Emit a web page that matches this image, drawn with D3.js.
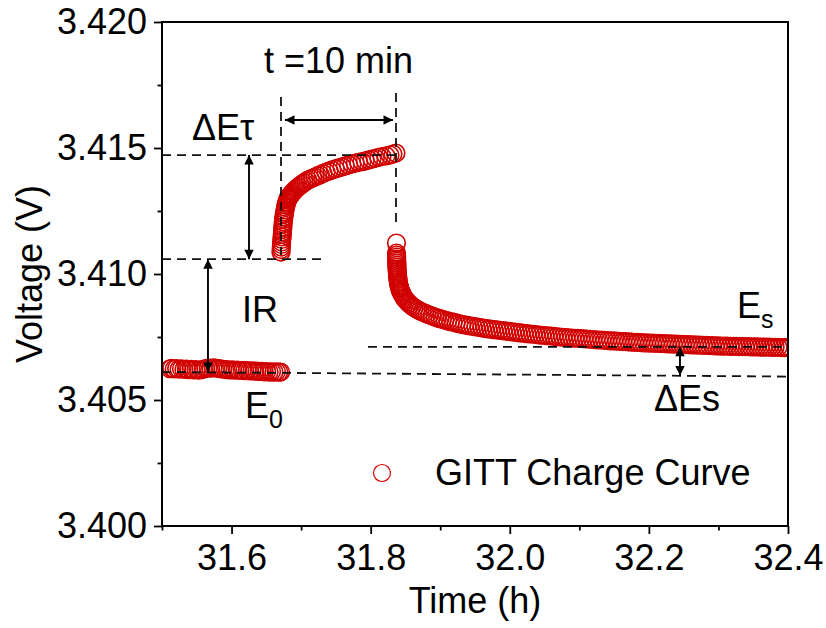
<!DOCTYPE html>
<html>
<head>
<meta charset="utf-8">
<script src="https://cdn.jsdelivr.net/npm/d3@7"></script>
<style>
  body { margin: 0; background: #fff; }
  svg { display: block; font-family: "Liberation Sans", Arial, sans-serif; }
</style>
</head>
<body>
<svg width="826" height="628"></svg>
<script>
// ---- data (time in h, voltage in V) ----
var xMajorTicks = [31.6, 31.8, 32.0, 32.2, 32.4];
var xMinorTicks = [31.5, 31.7, 31.9, 32.1, 32.3];
var yMajorTicks = [3.400, 3.405, 3.410, 3.415, 3.420];
var yMinorTicks = [3.4025, 3.4075, 3.4125, 3.4175];
var seriesName = "GITT Charge Curve";

// rest before the pulse
var restData = [
  [31.5115,3.40624],[31.5140,3.40626],[31.5175,3.40623],[31.5210,3.40625],[31.5245,3.40622],
  [31.5280,3.40624],[31.5315,3.40621],[31.5350,3.40623],[31.5385,3.40620],[31.5420,3.40622],
  [31.5455,3.40619],[31.5490,3.40621],[31.5525,3.40618],[31.5560,3.40620],[31.5595,3.40622],
  [31.5630,3.40625],[31.5665,3.40627],[31.5700,3.40626],[31.5735,3.40628],[31.5770,3.40627],
  [31.5805,3.40625],[31.5840,3.40624],[31.5875,3.40622],[31.5910,3.40621],[31.5945,3.40620],
  [31.5980,3.40619],[31.6015,3.40620],[31.6050,3.40618],[31.6085,3.40619],[31.6120,3.40617],
  [31.6155,3.40618],[31.6190,3.40616],[31.6225,3.40617],[31.6260,3.40615],[31.6295,3.40616],
  [31.6330,3.40614],[31.6365,3.40615],[31.6400,3.40613],[31.6435,3.40614],[31.6470,3.40612],
  [31.6505,3.40613],[31.6540,3.40611],[31.6575,3.40612],[31.6610,3.40611],[31.6645,3.40612],
  [31.6680,3.40611],[31.6705,3.40611]
];

// 10 min current pulse
var pulseData = [
  [31.6711,3.41087],[31.6713,3.41097],[31.6715,3.41107],[31.6718,3.41117],[31.6720,3.41127],
  [31.6723,3.41137],[31.6726,3.41147],[31.6729,3.41157],[31.6732,3.41167],[31.6735,3.41177],
  [31.6738,3.41187],[31.6741,3.41197],[31.6745,3.41207],[31.6749,3.41217],[31.6753,3.41227],
  [31.6758,3.41237],[31.6763,3.41246],[31.6769,3.41255],[31.6775,3.41264],[31.6782,3.41272],
  [31.6789,3.41280],[31.6797,3.41287],[31.6805,3.41294],[31.6814,3.41299],[31.6822,3.41303],
  [31.6831,3.41307],[31.6840,3.41310],[31.6854,3.41315],[31.6868,3.41320],[31.6883,3.41325],
  [31.6902,3.41330],[31.6921,3.41336],[31.6941,3.41341],[31.6965,3.41346],[31.6989,3.41352],
  [31.7013,3.41357],[31.7042,3.41362],[31.7070,3.41368],[31.7099,3.41373],[31.7133,3.41377],
  [31.7166,3.41381],[31.7200,3.41385],[31.7238,3.41390],[31.7277,3.41394],[31.7315,3.41399],
  [31.7358,3.41404],[31.7401,3.41408],[31.7444,3.41413],[31.7492,3.41417],[31.7540,3.41421],
  [31.7588,3.41425],[31.7636,3.41429],[31.7683,3.41433],[31.7731,3.41437],[31.7779,3.41440],
  [31.7827,3.41443],[31.7875,3.41446],[31.7923,3.41449],[31.7971,3.41453],[31.8019,3.41456],
  [31.8067,3.41459],[31.8115,3.41463],[31.8163,3.41466],[31.8220,3.41469],[31.8278,3.41472],
  [31.8321,3.41476],[31.8364,3.41480]
];

// relaxation after the pulse
var relaxData = [
  [31.8371,3.41123],[31.8371,3.41083],[31.8372,3.41075],[31.8373,3.41067],[31.8374,3.41059],
  [31.8375,3.41051],[31.8376,3.41043],[31.8377,3.41035],[31.8378,3.41027],[31.8380,3.41019],
  [31.8382,3.41011],[31.8384,3.41003],[31.8386,3.40995],[31.8389,3.40987],[31.8392,3.40979],
  [31.8396,3.40971],[31.8400,3.40964],[31.8405,3.40957],[31.8410,3.40951],[31.8415,3.40945],
  [31.8421,3.40940],[31.8430,3.40933],[31.8440,3.40927],[31.8450,3.40921],[31.8464,3.40914],
  [31.8478,3.40907],[31.8493,3.40901],[31.8512,3.40895],[31.8532,3.40889],[31.8551,3.40883],
  [31.8575,3.40878],[31.8599,3.40872],[31.8623,3.40867],[31.8652,3.40862],[31.8680,3.40858],
  [31.8709,3.40853],[31.8743,3.40849],[31.8776,3.40845],[31.8810,3.40841],[31.8848,3.40837],
  [31.8887,3.40833],[31.8925,3.40829],[31.8961,3.40826],[31.8997,3.40823],[31.9032,3.40820],
  [31.9068,3.40817],[31.9108,3.40814],[31.9148,3.40811],[31.9187,3.40809],[31.9227,3.40806],
  [31.9267,3.40803],[31.9307,3.40800],[31.9348,3.40798],[31.9388,3.40796],[31.9428,3.40794],
  [31.9471,3.40792],[31.9514,3.40790],[31.9557,3.40788],[31.9600,3.40786],[31.9643,3.40784],
  [31.9686,3.40782],[31.9729,3.40781],[31.9773,3.40779],[31.9816,3.40778],[31.9859,3.40776],
  [31.9902,3.40775],[31.9945,3.40773],[31.9988,3.40772],[32.0031,3.40770],[32.0074,3.40769],
  [32.0117,3.40767],[32.0160,3.40766],[32.0203,3.40764],[32.0246,3.40763],[32.0289,3.40762],
  [32.0332,3.40761],[32.0375,3.40760],[32.0418,3.40758],[32.0461,3.40757],[32.0504,3.40756],
  [32.0547,3.40755],[32.0590,3.40754],[32.0633,3.40753],[32.0676,3.40751],[32.0719,3.40750],
  [32.0762,3.40749],[32.0805,3.40748],[32.0848,3.40747],[32.0891,3.40746],[32.0934,3.40745],
  [32.0977,3.40745],[32.1020,3.40744],[32.1063,3.40743],[32.1106,3.40742],[32.1149,3.40741],
  [32.1192,3.40740],[32.1235,3.40739],[32.1278,3.40738],[32.1321,3.40738],[32.1364,3.40737],
  [32.1407,3.40736],[32.1450,3.40735],[32.1493,3.40735],[32.1536,3.40734],[32.1579,3.40733],
  [32.1622,3.40732],[32.1665,3.40732],[32.1708,3.40731],[32.1751,3.40730],[32.1794,3.40729],
  [32.1837,3.40729],[32.1880,3.40728],[32.1923,3.40727],[32.1966,3.40727],[32.2009,3.40726],
  [32.2052,3.40726],[32.2095,3.40725],[32.2138,3.40725],[32.2181,3.40724],[32.2224,3.40724],
  [32.2267,3.40723],[32.2310,3.40723],[32.2353,3.40722],[32.2396,3.40722],[32.2439,3.40721],
  [32.2482,3.40721],[32.2525,3.40720],[32.2568,3.40720],[32.2611,3.40719],[32.2654,3.40719],
  [32.2697,3.40718],[32.2740,3.40718],[32.2783,3.40717],[32.2826,3.40717],[32.2869,3.40716],
  [32.2912,3.40716],[32.2955,3.40715],[32.2998,3.40715],[32.3041,3.40714],[32.3084,3.40714],
  [32.3127,3.40714],[32.3170,3.40713],[32.3213,3.40713],[32.3256,3.40713],[32.3299,3.40712],
  [32.3342,3.40712],[32.3385,3.40712],[32.3428,3.40712],[32.3471,3.40711],[32.3514,3.40711],
  [32.3557,3.40711],[32.3600,3.40710],[32.3643,3.40710],[32.3686,3.40710],[32.3729,3.40710],
  [32.3772,3.40709],[32.3815,3.40709],[32.3858,3.40709],[32.3901,3.40708],[32.3944,3.40708],
  [32.3987,3.40708],[32.4030,3.40708]
];

// guide lines (data units): [t1, v1, t2, v2]
var dashLines = [
  [31.6711, 3.41702, 31.6711, 3.41075],
  [31.8364, 3.41718, 31.8364, 3.41183],
  [31.5, 3.41472, 31.8364, 3.41472],
  [31.5, 3.41059, 31.7300, 3.41059],
  [31.5, 3.40611, 32.4, 3.40593],
  [31.7961, 3.40711, 32.4, 3.40711]
];
var arrows = [
  [31.6768, 3.41611, 31.8321, 3.41611],
  [31.6251, 3.41472, 31.6251, 3.41059],
  [31.5661, 3.41059, 31.5661, 3.40611],
  [32.2447, 3.40711, 32.2447, 3.40597]
];

var svg = d3.select("svg");
var L = 162, R = 788, T = 22, B = 526;
var x = d3.scaleLinear().domain([31.5, 32.4]).range([L, R]);
var y = d3.scaleLinear().domain([3.400, 3.420]).range([B, T]);
var red = "#d10000";
var font = 36;

var defs = svg.append("defs");
defs.append("clipPath").attr("id", "plot")
  .append("rect").attr("x", L).attr("y", T).attr("width", R - L).attr("height", B - T);

// arrowhead marker
defs.append("marker").attr("id", "ah")
  .attr("viewBox", "0 0 10 10").attr("refX", 10).attr("refY", 5)
  .attr("markerWidth", 6.5).attr("markerHeight", 5)
  .attr("markerUnits", "strokeWidth").attr("orient", "auto-start-reverse")
  .append("path").attr("d", "M0,0L10,5L0,10Z").attr("fill", "#000");

// axes
var xAxis = svg.append("g").attr("transform", "translate(0," + B + ")")
  .call(d3.axisBottom(x).tickValues(xMajorTicks).tickFormat(d3.format(".1f")).tickSize(8).tickPadding(10));
var xMinor = svg.append("g").attr("transform", "translate(0," + B + ")")
  .call(d3.axisBottom(x).tickValues(xMinorTicks).tickFormat("").tickSize(4.5));
var yAxis = svg.append("g").attr("transform", "translate(" + L + ",0)")
  .call(d3.axisLeft(y).tickValues(yMajorTicks).tickFormat(d3.format(".3f")).tickSize(8).tickPadding(7));
var yMinor = svg.append("g").attr("transform", "translate(" + L + ",0)")
  .call(d3.axisLeft(y).tickValues(yMinorTicks).tickFormat("").tickSize(4.5));

[xAxis, xMinor, yAxis, yMinor].forEach(function(g) {
  g.select(".domain").remove();
  g.selectAll(".tick line").attr("stroke", "#000").attr("stroke-width", 1.8);
  g.selectAll("text").attr("font-size", font).attr("font-family", "Liberation Sans, Arial, sans-serif").attr("fill", "#000");
});

// data
var pts = svg.append("g").attr("clip-path", "url(#plot)");
[restData, pulseData, relaxData].forEach(function(series) {
  pts.append("g").selectAll("circle").data(series).enter().append("circle")
    .attr("cx", function(d) { return x(d[0]); })
    .attr("cy", function(d) { return y(d[1]); })
    .attr("r", 8.8)
    .attr("fill", "none")
    .attr("stroke", red)
    .attr("stroke-width", 1.6);
});

// frame
svg.append("rect").attr("x", L).attr("y", T).attr("width", R - L).attr("height", B - T)
  .attr("fill", "none").attr("stroke", "#000").attr("stroke-width", 2);

// axis titles
svg.append("text").attr("x", (L + R) / 2).attr("y", 613).attr("text-anchor", "middle")
  .attr("font-size", font).text("Time (h)");
svg.append("text").attr("transform", "translate(42," + ((T + B) / 2) + ") rotate(-90)")
  .attr("text-anchor", "middle").attr("font-size", font).text("Voltage (V)");

// dashed guides
svg.append("g").selectAll("line").data(dashLines).enter().append("line")
  .attr("x1", function(d) { return x(d[0]); }).attr("y1", function(d) { return y(d[1]); })
  .attr("x2", function(d) { return x(d[2]); }).attr("y2", function(d) { return y(d[3]); })
  .attr("stroke", "#111").attr("stroke-width", 1.8).attr("stroke-dasharray", "9,6");

// double arrows
svg.append("g").selectAll("line").data(arrows).enter().append("line")
  .attr("x1", function(d) { return x(d[0]); }).attr("y1", function(d) { return y(d[1]); })
  .attr("x2", function(d) { return x(d[2]); }).attr("y2", function(d) { return y(d[3]); })
  .attr("stroke", "#000").attr("stroke-width", 1.9)
  .attr("marker-start", "url(#ah)").attr("marker-end", "url(#ah)");

// annotation labels
function label(px, py, txt, sub) {
  var t = svg.append("text").attr("x", px).attr("y", py).attr("font-size", font).text(txt);
  if (sub) t.append("tspan").attr("font-size", 25).attr("dy", 10).text(sub);
  return t;
}
label(264, 73, "t =10 min");
label(192, 140, "\u0394E\u03C4");
label(242, 322, "IR");
label(245, 418, "E", "0");
label(737, 318, "E", "s");
label(654, 411, "\u0394Es");

// legend
svg.append("circle").attr("cx", 382).attr("cy", 473).attr("r", 8.5)
  .attr("fill", "none").attr("stroke", red).attr("stroke-width", 1.2);
svg.append("text").attr("x", 435).attr("y", 485).attr("font-size", font).text(seriesName);
</script>
</body>
</html>
